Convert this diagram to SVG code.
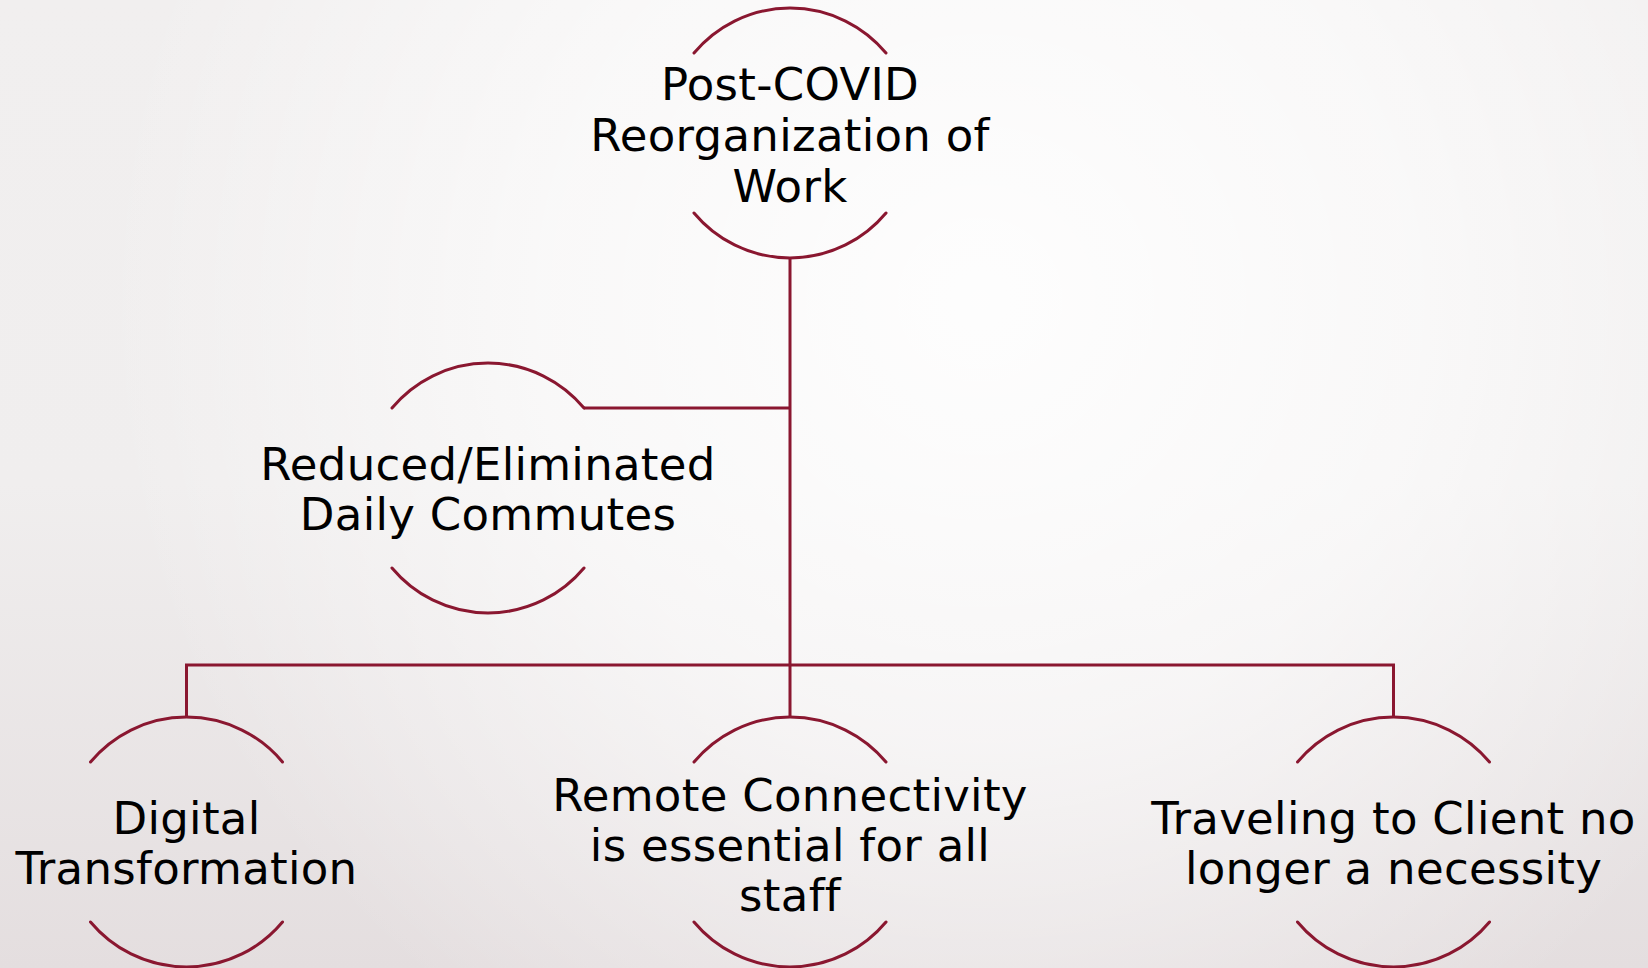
<svg xmlns="http://www.w3.org/2000/svg" width="1648" height="968" viewBox="0 0 1648 968">
<defs>
<linearGradient id="bgLin" x1="0" y1="0" x2="0" y2="1">
<stop offset="0" stop-color="#f1efef"/>
<stop offset="0.5" stop-color="#f0eeee"/>
<stop offset="1" stop-color="#e4dedf"/>
</linearGradient>
<radialGradient id="bgRad" gradientUnits="userSpaceOnUse" cx="980" cy="300" r="880">
<stop offset="0" stop-color="#ffffff" stop-opacity="0.9"/>
<stop offset="0.5" stop-color="#ffffff" stop-opacity="0.6"/>
<stop offset="1" stop-color="#ffffff" stop-opacity="0"/>
</radialGradient>
<style>
.arc{fill:none;stroke:#8a1730;stroke-width:3;stroke-linecap:round}
.conn{fill:none;stroke:#8a1730;stroke-width:3}
.lbl{font-family:"DejaVu Sans","Liberation Sans",sans-serif;font-size:45px;fill:#000000;text-anchor:middle;font-variant-ligatures:none;letter-spacing:0.3px}
</style>
</defs>
<rect width="1648" height="968" fill="url(#bgLin)"/>
<rect width="1648" height="968" fill="url(#bgRad)"/>

<g id="connectors">
<path class="conn" d="M790 258 V717"/>
<path class="conn" d="M584 408 H790"/>
<path class="conn" d="M186.5 717 V665 H1393.5 V717"/>
</g>

<g id="node-root">
<path class="arc" d="M694 53 A125 125 0 0 1 886 53"/>
<path class="arc" d="M694 213 A125 125 0 0 0 886 213"/>
<text class="lbl" x="790" y="100">Post-COVID</text>
<text class="lbl" x="790" y="151">Reorganization of</text>
<text class="lbl" x="790" y="202">Work</text>
</g>

<g id="node-commutes">
<path class="arc" d="M392 408 A125 125 0 0 1 584 408"/>
<path class="arc" d="M392 568 A125 125 0 0 0 584 568"/>
<text class="lbl" x="488" y="480">Reduced/Eliminated</text>
<text class="lbl" x="488" y="530">Daily Commutes</text>
</g>

<g id="node-digital">
<path class="arc" d="M90.5 762 A125 125 0 0 1 282.5 762"/>
<path class="arc" d="M90.5 922 A125 125 0 0 0 282.5 922"/>
<text class="lbl" x="186.5" y="834">Digital</text>
<text class="lbl" x="186.5" y="884">Transformation</text>
</g>

<g id="node-remote">
<path class="arc" d="M694 762 A125 125 0 0 1 886 762"/>
<path class="arc" d="M694 922 A125 125 0 0 0 886 922"/>
<text class="lbl" x="790" y="811">Remote Connectivity</text>
<text class="lbl" x="790" y="861">is essential for all</text>
<text class="lbl" x="790" y="911">staff</text>
</g>

<g id="node-travel">
<path class="arc" d="M1297.5 762 A125 125 0 0 1 1489.5 762"/>
<path class="arc" d="M1297.5 922 A125 125 0 0 0 1489.5 922"/>
<text class="lbl" x="1393.5" y="834">Traveling to Client no</text>
<text class="lbl" x="1393.5" y="884">longer a necessity</text>
</g>
</svg>
